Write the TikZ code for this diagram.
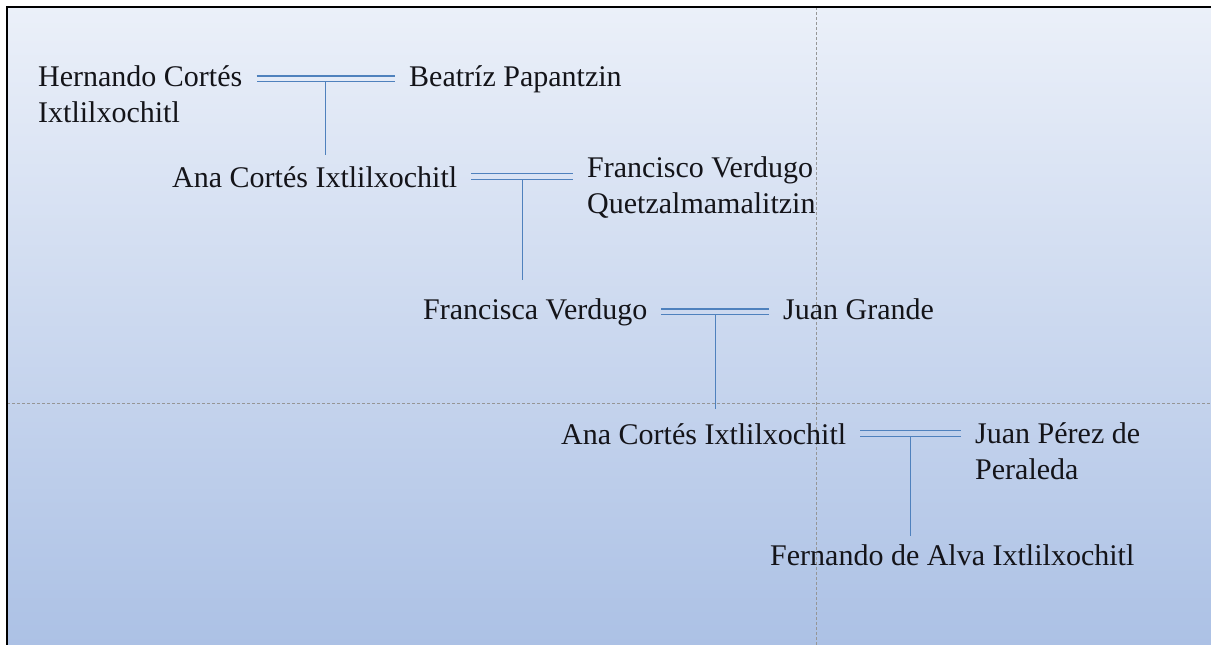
\documentclass[tikz,border=0pt]{standalone}
\usepackage{fontspec}
\setmainfont{Liberation Serif}
\usetikzlibrary{calc}

\definecolor{linkblue}{RGB}{79,129,189}
\definecolor{guidegray}{RGB}{150,150,150}
\definecolor{bgtop}{RGB}{235,240,249}
\definecolor{bgbottom}{RGB}{172,193,229}
\definecolor{namecolor}{RGB}{20,20,25}

\begin{document}
\begin{tikzpicture}[x=1pt,y=-1pt,
    person/.style={anchor=base west,inner sep=0pt,align=left,text=namecolor,font=\namefontsize},
    marriage/.style={draw=linkblue,line width=1.2pt,double distance=4.5pt,shorten <=14pt,shorten >=14pt},
    descent/.style={draw=linkblue,line width=1.2pt,shorten <=3pt},
    guide/.style={draw=guidegray,line width=0.6pt,dash pattern=on 3pt off 2pt}]
    \pgfmathsetmacro{\picwidth}{1211}
    \pgfmathsetmacro{\picheight}{645}
    \pgfmathsetmacro{\frameinset}{7}
    \providecommand{\namefontsize}{\fontsize{30}{36}\selectfont}
    \useasboundingbox (0,0) rectangle (\picwidth,\picheight);
    \shade[top color=bgtop,bottom color=bgbottom] (\frameinset,\frameinset) rectangle (\picwidth,\picheight);
    \draw[guide] (816,\frameinset) -- (816,\picheight);
    \draw[guide] (\frameinset,403) -- (\picwidth,403);
    \draw[line width=2.5pt] (\frameinset,\picheight) -- (\frameinset,\frameinset) -- (\picwidth,\frameinset);
    % people (base of a two-line name is its second line)
    \node[person] (hernando) at (38,122) {Hernando Cortés\\Ixtlilxochitl};
    \node[person] (beatriz) at (409,86) {Beatríz Papantzin};
    \node[person] (ana1) at (172,187) {Ana Cortés Ixtlilxochitl};
    \node[person] (francisco) at (587,213) {Francisco Verdugo\\Quetzalmamalitzin};
    \node[person] (francisca) at (423,319) {Francisca Verdugo};
    \node[person] (juangrande) at (783,319) {Juan Grande};
    \node[person] (ana2) at (561,444) {Ana Cortés Ixtlilxochitl};
    \node[person] (juanperez) at (975,479) {Juan Pérez de\\Peraleda};
    \node[person] (fernando) at (770,565) {Fernando de Alva Ixtlilxochitl};
    % marriages
    \draw[marriage,double=bgbottom!12!bgtop] (hernando.east |- beatriz.west) -- (beatriz.west);
    \draw[marriage,double=bgbottom!27!bgtop] (ana1.east) -- (ana1.east -| francisco.west);
    \draw[marriage,double=bgbottom!48!bgtop] (francisca.east) -- (francisca.east -| juangrande.west);
    \draw[marriage,double=bgbottom!67!bgtop] (ana2.east) -- (ana2.east -| juanperez.west);
    \coordinate (hb) at ($(hernando.east |- beatriz.west)!0.5!(beatriz.west)$);
    \coordinate (af) at ($(ana1.east)!0.5!(ana1.east -| francisco.west)$);
    \coordinate (fj) at ($(francisca.east)!0.5!(francisca.east -| juangrande.west)$);
    \coordinate (aj) at ($(ana2.east)!0.5!(ana2.east -| juanperez.west)$);
    % children
    \draw[descent,shorten >=11pt] (hb) -- (hb |- ana1.north);
    \draw[descent,shorten >=18pt] (af) -- (af |- francisca.north);
    \draw[descent,shorten >=14pt] (fj) -- (fj |- ana2.north);
    \draw[descent,shorten >=8pt] (aj) -- (aj |- fernando.north);
\end{tikzpicture}
\end{document}
